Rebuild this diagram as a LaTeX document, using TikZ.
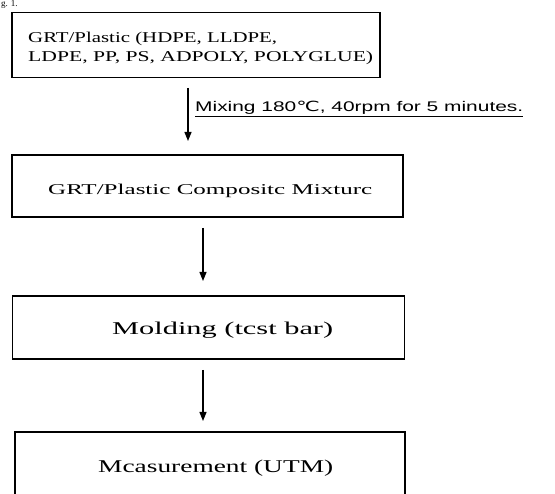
\documentclass[tikz,border=0pt]{standalone}
\usepackage{fontspec}
\usepackage{graphicx}
\setmainfont{Liberation Serif}
\newfontfamily\lblfont{Liberation Sans}
\newfontfamily\djv{DejaVu Sans}
\usetikzlibrary{arrows.meta}
\tikzset{
  stepbox/.style={draw=black, line width=1.4pt, rectangle, inner sep=0pt},
  txt/.style={anchor=base west, inner sep=0pt, text=black},
  flow/.style={draw=black, line width=1.2pt, -{Triangle[length=9pt,width=7pt]}},
}
\newcommand{\wfit}[2]{\resizebox{#1}{\height}{#2}}
\begin{document}
\begin{tikzpicture}[x=1pt,y=-1pt]
\useasboundingbox (0,0) rectangle (555,494);
% figure caption fragment at the top edge
\node[anchor=north west, inner sep=0pt] (cap) at (1,0.5) {\fontsize{9}{10}\selectfont g. 1.};
% boxes
\node[stepbox, minimum width=368pt, minimum height=65pt] (b1) at (196,45) {};
\node[stepbox, minimum width=391pt, minimum height=62pt] (b2) at (207.5,186) {};
\node[stepbox, minimum width=392pt, minimum height=63pt] (b3) at (208.5,327.5) {};
\node[stepbox, minimum width=390pt, minimum height=80pt] (b4) at (210,472) {};
% texts
\node[txt] (t1a) at (28,43) {\fontsize{15}{18}\selectfont\wfit{249pt}{GRT/Plastic (HDPE, LLDPE,}};
\node[txt] (t1b) at (28,62) {\fontsize{15}{18}\selectfont\wfit{345pt}{LDPE, PP, PS, ADPOLY, POLYGLUE)}};
\node[txt] (t2) at (48,195) {\fontsize{15}{18}\selectfont\wfit{324pt}{GRT/Plastic Compositc Mixturc}};
\node[txt] (t3) at (112,335) {\fontsize{18}{21}\selectfont\wfit{221pt}{Molding (tcst bar)}};
\node[txt] (t4) at (98,473) {\fontsize{18}{21}\selectfont\wfit{235pt}{Mcasurement (UTM)}};
\node[txt] (lbl) at (195,112) {\fontsize{14}{16}\lblfont\wfit{328pt}{\underline{Mixing 180{\djv ℃}, 40rpm for 5 minutes.}}};
% arrows
\coordinate (a1s) at (188,88);  \coordinate (a1e) at (188,141);
\coordinate (a2s) at (203,228); \coordinate (a2e) at (203,281);
\coordinate (a3s) at (203,370); \coordinate (a3e) at (203,421);
\draw[flow] (a1s) -- (a1e);
\draw[flow] (a2s) -- (a2e);
\draw[flow] (a3s) -- (a3e);
\end{tikzpicture}
\end{document}
